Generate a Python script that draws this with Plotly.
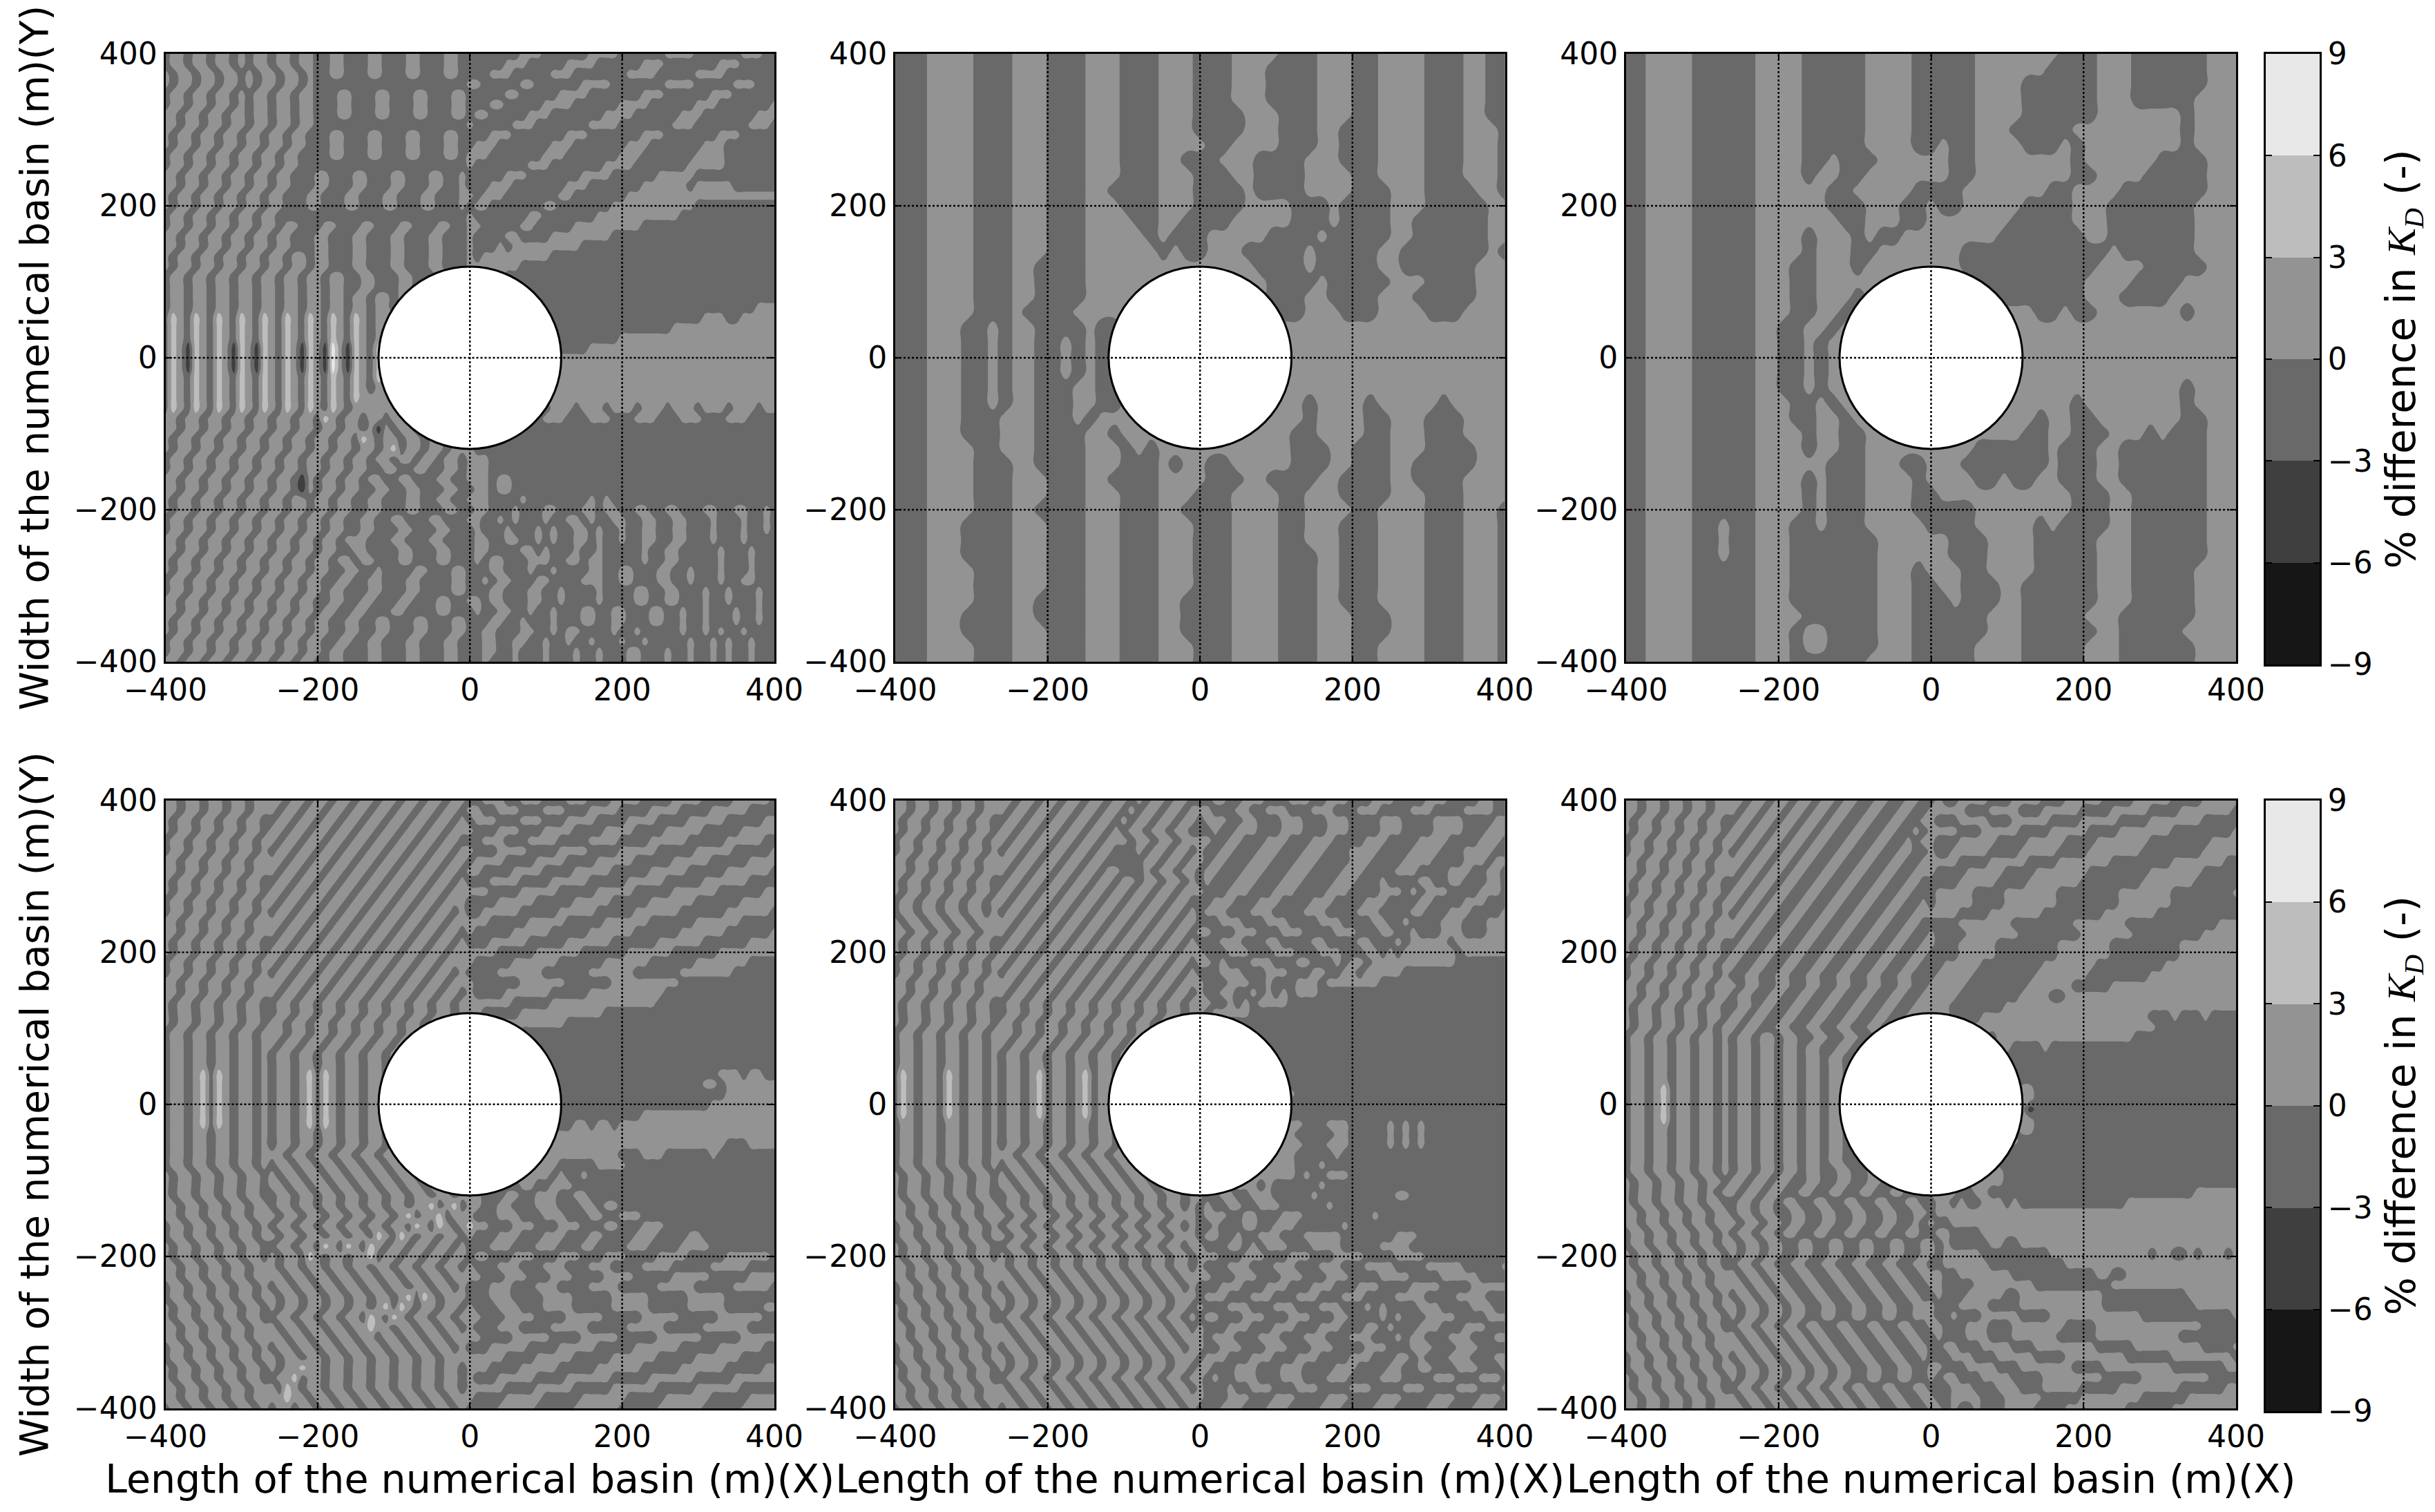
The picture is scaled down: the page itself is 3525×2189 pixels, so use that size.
import numpy as np
import plotly.graph_objects as go

# shares of the difference in Kd
# top row first, '#' -3..0  '.' 0..3  'L' 3..6  'W' 6..9  'D' -6..-3
CELL_VALUES = {"#": -1.5, ".": 1.0, "L": 4.5, "W": 7.5, "D": -4.5}
BAND_COLORS = ["#161616", "#3f3f3f", "#696969", "#939393", "#bdbdbd", "#e8e8e8"]
BAND_TICKS = [-9, -6, -3, 0, 3, 6, 9]
BAND_MIDDLES = [-7.5, -4.5, -1.5, 1.5, 4.5, 7.5]
AXIS_TICKS = [-400, -200, 0, 200, 400]
GRID_AT = [-200, 0, 200]
CYLINDER_RADIUS = 120
PANEL_COLS = [81, 51, 51, 81, 81, 81]

panel_1 = [
"#..#..#..#.#..#..#..##..###..###..###..########...######....######....######...##",
"#..#..#..#.#..#..#..##..###..###..###..######...#####....######...#######...#####",
".#..#..#..#.#..#..#.##..###..###..###..####...#####...#######....#####....#######",
".#..#..#..#.#..#..#.####################..#####..######....#######....#####...####",
"#..#..#..#.#..#..#..###..###..###..###..#####..#####....#######...######...######",
"#..#..#..#.#..#..#..###..###..###..###..###..#####....######....######...#######.",
"..#..#..#..#..#..#..###..###..###..###..#..#####...#######....######...#######...",
"..#..#..#..#..#..#..####################.#####...#######....#######...#######...##",
".#..#..#..#..#..#..###..###..###..###..####...#######...#######...#######...#####",
".#..#..#..#..#..#..###..###..###..###..##...#######...#######...#######...#######",
"#..#..#..#..#..#..####..###..###..###..#...#######...#######...#######....#######",
"#..#..#..#..#..#..######################.#######...#######....#######.....########",
"..#..#..#..#..#..###..###..###..###..##.#####...#######....######.....###########",
"..#..#..#..#..#..###..###..###..###..##.###...#######...#######......#.....#######",
".#..#..#..#..#..###..###..###..###..###..#...#######..#######.....................",
".#..#..#..#..#..###..###..###..###..###.#..#######..#######...........###########",
"#..#..#..#..#..#########################.#######..#######...........##############",
"#..#..#..#..#..#..###..###..###..###..##..#####..#####.........##################",
"..#..#..#..#..#..###..###..###..###..###.####..####........######################",
"..#..#..#..#..#..###..###..###..###..###.###.#.........##########################",
".#..#..#..#..#..#..#..###..###..###..###.#.........##############################",
".#..#..#..#..#..#..#..###..###..###..###.......##################################",
"#..#..#..#..#..#..#..#..##..###..###..##.###.####################################",
"#..#..#..#..#..#..#..#..##..###..###..##.##.#####################################",
"#..#..#..#..#..#..#..#..#..#..#..#..#..#.#########################################",
"#..#..#..#..#..#..#..#..#..#..#..#..#..#.#####################################....",
"#L.#L.#L.#L.#L.#L.#L.#L.#L.#.............##############################...##.....",
"#L.#L.#L.#L.#L.#L.#L.#L.#L.#.............##########################..............",
"#L.#L.#L.#L.#L.#L.#L.#L.#L.#.............###################......................",
"#L.DL.#L.DL.DL.#L.DL.DW.DL.#L.............##############.........................",
"#L.DL.#L.DL.DL.#L.DL.DW.DL.#L....................................................",
"#L.DL.#L.DL.DL.#L.DL.DW.DL.#L....................................................",
"#L.#L.#L.#L.#L.#L.#L.#L.#L.#L....................................................",
"#L.#L.#L.#L.#L.#L.#L.#L.#L.#.....................................................",
"#L.#L.#L.#L.#L.#L.#L.#L.#L.......................................................",
"#L.#L.#L.#L.#L.#L.#L.#L.#.........................#...#...#...#...#...#...#...#..",
"..#..#..#..#..#..#..#L.#..#..#..........##...#####...###...###...###...###...####",
"..#..#..#..#..#..#..#..#..#.D.#..#..#...#########################################",
".#..#..#..#..#..#..#..#..#L.#..#..#..#..#########################################",
".#..#..#..#..#..#..#..#..#..#.L#..#..#...########################################",
"#..#..#..#..#..#..#..#..#..#..#..#..#..#...######################################",
"#..#..#..#..#..#..#..#..#..##..##..##..#...######################################",
"..#..#..#..#..#..#D.#..#..#..##..###..##...#..###################################",
"..#..#..#..#..#..#D.#..#..##..##..###..##..#..###################################",
".#..#..#..#..#..#..#..#..##..###..##..##...####.########.#.######################",
".#..#..#..#..#..#..#..#..##..###..###..##..###.###..###..#..##..##..###..##..##.#",
"#..#..#..#..#..#..#..#..##..##..###..###..##.#.###.##..#.##..##..##..###.###.##.#",
"#..#..#..#..#..#..#..#..##..###..###..###.###.###.#.##..#.##.##..##..###.###.##.#",
"..#..#..#..#..#..#..#..#...###..###..####..##..##.#.##..#.##.##..##..###.###.####",
"..#..#..#..#..#..#..#..##..####..###..###..####..#.###.##.#####.##..#####.###.###",
".#..#..#..#..#..#..#..#..#..###..###..###.#..###...##..#..#####.##..#####.###.###",
".#..#..#..#..#..#..#..##..##.####..###..###..###.##.####..##..###..##.###.###.###",
"#..#..#..#..#..#..#..##..##..###..####..##.#..###..####...##..###..##.###.##..###",
"#..#..#..#..#..#..#..#..###..###..####..###..###..##.####.####..##..###.##.###.##",
"..#..#..#..#..#..#..##..##..###..###..##..#..###..##.####.####..##..###.##.###.##",
"..#..#..#..#..#..#..#..##..###..####..###.##..##.##.###..##..###..##.##.###.##.##",
".#..#..#..#..#..#..#..##..##..###..###..###..##.###.###..##..###..##.##.###.##.##",
".#..#..#..#..#..#..#..##..##..###..###..##..###..##.#..####.##.#####.##.#.##.####",
"#..#..#..#..#..#..#..##..##..###..###..###..##..##.##.##.###.##.#####.##.#.##.###",
"#..#..#..#..#..#..#..#..###..###..###..###..##.###.###.##.###..###.##.##.#.##.###",
"..#..#..#..#..#..#..##..###..###..###..###.###.###.###.##.###..###.##.##.#.##.###",
]

panel_2 = [
"###....###...###...###...###....###...##....###..##",
"###....###...###...###...###...####...##....###..##",
"###....###...###...###...###...####...##....###..##",
"###....###...###...###...###...####...##....###..##",
"###....###...###...###...####...###...##....###..##",
"###....###...###...###...####...###..###....###...#",
"###....###...###...###....##....###..###....###...#",
"###....###...###...###..###...####...###....###...#",
"###....###...###...###...###..####....##....###...#",
"###....###...###..####...####.####....###...####..#",
"###....###...###...###...####....###.####...#####..##",
"###....###...###....##..####.....###.####..######..##",
"###....###...###.....#.###.....####.#####..######...#",
"###....###...###......#.##...#####.#####..#######.#",
"###....###..####..............####.#####..######...",
"###....###..####...............####.#####...####...",
"###....###..####...............###..####...#####...",
"###....###.####................###...###....###....",
"###...##.#..####.##................................",
"###...##.#..##.#.##................................",
"###...##.#..##.#.#.................................",
"###...##.#..##.#.#.................................",
"###...##.#..###..##................................",
"###...##.#..###..##...............#....#.....#.....",
"###...###...###.#.................#....##...###....",
"###...###...####..#..............##....##...###....",
"###....##...####...#.#...........###..###...####...",
"###....###..####...###.#..##.....###..###..#####...",
"###....###...###..####....###..####..####..####....",
"###....###...###...###...###....##...####...###....",
"###....###..####...###..####....##....##....###...#",
"###...####...###...###...###....##...###....###...#",
"###...####...###...###...###....##...###....###...#",
"###...####...###...###...###....###..###....###...#",
"###....###...###...###...###....###..###....###...#",
"###....###...###...###...###....###..###....###...#",
"###....###..####...###..####....###..###....###...#",
"###...####..####...###..####....###...###...###...#",
"###...####...###...###..####....###...###...###...#",
"###....###...###...###...###....###...##....###...#",
"###....###...###...###...###....###...##....###...#",
]

panel_3 = [
"##....#####....#####....#####.......###...######...",
"##....#####....#####....#####......####...######...",
"##....#####....#####....#####....######...######...",
"##....#####....#####....#####....######...#####....",
"##....#####....#####....#####....######.......#....",
"##....#####....#####....#####...#####.........#....",
"##....#####....#####....##.##....###.#........#....",
"##....#####....##.###......##........#......####...",
"##....#####....#..##.......##........##....#####...",
"##....#####......##.....####.......##....#######...",
"##....#####......###...##.##.....####...#######....",
"##....#####.......##...##.......#####...#######....",
"##....#####....#...#.##........#######..#######....",
"##....#####....#...##.......############.######....",
"##....#####...##...#........###########....#####...",
"##....#####...##.............#########....####.....",
"##....#####...##...#.........#########...####......",
"##....#####...##..#...............##.##.......#....",
"##....#####..##..#.................................",
"##....#####..##.#..................................",
"##....#####..##.#..................................",
"##....#####..##.#..................................",
"##....#####..##.#.............................#....",
"##....#####...##.#...................#........#....",
"##....#####...##..#...............#..##.......##...",
"##....#####....#..##.............##..###...#.###...",
"##....#####....#..##.........######.###..#######...",
"##....#####......###...##...#######.###..#######...",
"##....#####....#.###....#....##.##..###..#######...",
"##....#####....#.###....##...........###..######...",
"##....#####....#.###....#####........###..######...",
"##....##.##...##.###.....####.....#.####..######...",
"##....##.##...#######......###....#####...######...",
"##....##.##...#######......###....#####...######...",
"##....#####...#######...#...##....#####...#####....",
"##....#####...#######...##..###..######...#####....",
"##....#####...#######...###.###..######...#####....",
"##....#####....######...######...#####...######....",
"##....#####...#..####...######...######..#####.....",
"##....#####...#..####...#####....#####...######....",
"##....#####...######....#####....#####...######....",
]

panel_4 = [
"..#..#..#..#....#..#..#..#..#..#..#..#..##...##...###...###....####....####.....#",
"..#..#..#..#...#..#..#..#..#..#..#..#..#..##...###...###....####....####.....####",
".#..#..#..#..##..#..#..#..#..#..#..#..#.#...###...###....####....####.....#####..",
".#..#..#..#..#..#..#..#..#..#..#..#..#...###...###....####....####.....#####.....",
"#..#..#..#..#..#..#..#..#..#..#..#..#..###...###....####....####.....#####.....##",
"#..#..#..#..#.#..#..#..#..#..#..#..#..#..###....####....####.....#####.....#####.",
"..#..#..#..#....#..#..#..#..#..#..#..#..#....####....####.....#####.....#####....",
"..#..#..#..#...#..#..#..#..#..#..#..#..#..####....####.....#####.....#####......#",
".#..#..#..#..##..#..#..#..#..#..#..#..#.###....####.....#####.....#####......####",
".#..#..#..#..#..#..#..#..#..#..#..#..#.....####.....#####.....#####......######.",
"#..#..#..#..#..#..#..#..#..#..#..#..#...####.....#####.....#####......######....",
"#..#..#..#..#.#..#..#..#..#..#..#..#..#.##.....#####.....#####......######......#",
"..#..#..#..#....#..#..#..#..#..#..#..#.....#####.....#####......######......#####",
"..#..#..#..#...#..#..#..#..#..#..#..#..#.#####.....#####......######......######.",
".#..#..#..#..##..#..#..#..#..#..#..#..#.###.....#####......######......######....",
".#..#..#..#..#..#..#..#..#..#..#..#..#......#####......######......######.......",
"#..#..#..#..#..#..#..#..#..#..#..#..#....#####......######......######.......###",
"#..#..#..#..#.#..#..#..#..#..#..#..#..#.####......######......######.......######",
"..#..#..#..#....#..#..#..#..#..#..#..#...######......######.........###########",
"..#..#..#..#...#..#..#..#..#..#..#..#..#.####......#####..........###############",
".#..#..#..#..##..#..#..#..#..#..#..#..#.......#####..............#################",
".#..#..#..#..##..#..#..#..#..#..#..#..#...#####...........#######################",
".#..#..#..#..#..#..#..#..#..#..#..#..#..####.........############################",
"#..#..#..#..#...#..#..#..#..#..#..#..#.........###################################",
"#..#..#..#..#..#..#..#..#..#..#..#..#...........######################################",
"#..#..#..#..#.#..#..#..#..#..#..#..#..#..#######################################",
"#..#..#..#..#.#..#..#..#..#..#..#..#..#.#########################################",
"#..#.L#L.#..#.#..#.L#L.#..#..#..#..#..#.#################################...#..##.",
"#..#.L#L.#..#.#..#.L#L.#..#..#..#..#..#.###############################..#.......",
"#..#.L#L.#..#.#..#.L#L.#..#..#..#..#..#.##################################.......",
"#..#.L#L.#..#.#..#.L#L.#..#..#..#..#..#.################################.........",
"#..#.L#L.#..#.#..#.L#L.#..#..#..#..#..#.#######################..................",
"#..#.L#L.#..#.#..#.L#L.#..#..#..#..#..#.##############..#..#.....................",
"#..#..#..#..#.#..#..#..#..#..#..#..#..#.#########................................",
"#..#..#..#..#.#..#..#..#..#..#..#..#..#.#########.........................###....",
"#..#..#..#..#...#..#..#..#..#..#..#..#..########............###...######.########",
"#..#..#..#..#.#..#..#..#..#..#..#..#..#.########....#####....#####################",
".#..#..#..#..#.#..#..#..#..#..#..#..#..#...........#.##.#########################",
".#..#..#..#..#..#..#..#..#..#..#..#..#..##...##..##...###########################",
".#..#..#..#..##..#..#..#..#..#..#..#..#...###..##...##..########################",
"..#..#..#..#..#..#..#..#..#..#..#..L#.L#..##..###...###..#..######################",
"..#..#..#..#...#..#..#..#..#..#.L#..L#...###...###...###..##...###################",
"#..#..#..#..#.#..#..#..#..#..#..#L.#L.#.L..###...###...###..###...###############",
"#..#..#..#..#..#..#..#..#..#L.#L.#..#..#.###...###...###..####...####..##########",
".#..#..#..#..##..#..#L.#L.#L.#..#..#..#.###...###...###..####...####....#########",
".#..#..#..#..#.#..#L.#..#..L#..#..#..#..#..###...###...###...####....#####......##",
"..#..#..#..#...#..#..#..#..#..#..#..#..#.###...###...###...####....#####.....#####",
"..#..#..#..#....#..#..#..#..#..#..#..#....###...###...####....#####.....#####....",
"#..#..#..#..#.#..#..#..#..#..#..#..#..#.###...###...####....#####.....#####.....#",
"#..#..#..#..#..#..#..#..#..#..#.L#L.#...###...####....#####.....#####.....#####",
".#..#..#..#..#.#..#..#..#..#.L#L.#..#..#.###...###....#####.....#####.....#####...",
".#..#..#..#..##..#..#..#..#L.#L.#..#..#...###....####.....#####.....#####......##",
"..#..#..#..#...#..#..#..#..L..#..#..#..#.###...####.....#####.....#####......#####",
"..#..#..#..#....#..#..#..#..#..#..#..#....####.....####.....#####......#####.....",
"#..#..#..#..#.#..#..#..#..#..#..#..#..#.###.....####.....#####......#####......##",
"#..#..#..#..#..#..#..#..#..#..#..#..#........####.....#####......#####......#####",
".#..#..#..#..#.#..L..#..#..#..#..#..#..#...####.....#####......#####......#####...",
".#..#..#..#..##..L#..#..#..#..#..#..#..#.###.....####......#####......#####......#",
"..#..#..#..#...#L.#..#..#..#..#..#..#..#.....####.....#####......#####......#####..",
"..#..#..#..#....L..#..#..#..#..#..#..#...####.....#####......#####......#####.....",
"#..#..#..#..#.#..#..#..#..#..#..#..#..#.####.....#####......#####......#####.....",
]

panel_5 = [
"..#..#..#..#....#..#..#..#..#..#.#..#..###..##...###...##...###...####...####..##",
"..#..#..#..#...#..#..#..#..#..#.#..#..#...###..##...###...###...####...####....##",
".#..#..#..#..##..#..#..#..#..#.#..#..#..#...##..###...###...####...####....####..",
".#..#..#..#..#..#..#..#..#..#.#..#..#..###.##...###...###...####...####....###...",
"#..#..#..#..#..#..#..#..#..#...#..#..#....##..###...###...####...####....####...#",
"#..#..#..#..#.#..#..#..#..#..###.#..#..#.##..###...###...###....####....###....##",
"..#..#..#..#....#..#..#..#..#####..#..#..#..###...###...####...####....####...#..",
"..#..#..#..#...#..#..#..#..#..###.#..#..#..###...###...####...####...####...##..#",
".#..#..#..#..##..#..#..#..#..#..#..#..#.#.###...###...####...###.####..##..###..#",
".#..#..#..#..#..#..#..#..#..#..#..#..#...###...###...####...####...#.#...####...#",
"#..#..#..#..#..#..#..#..#..#..#..#..#..###...###...####...####...####..####...###",
"#..#..#..#..#.#..#..#..#..#..#..#..#..#.#...###...####...####...####..###...####.",
".#..#..#..#.....#..#..#..#..#..#..#..#..###...###...####...####..##.####...###...",
"..#..#..#..#...#..#..#..#..#..#..#..#..#..###...###...####...###..##.###...###...",
".#..#..#..#..##..#..#..#..#..#..#..#..#.###...###..####..####..###.#.....#.......",
".#..#..#..#..#..#..#..#..#..#..#..#..#...###...###...###...###..#.#.......#......",
"#..#..#..#..#..#..#..#..#..#..#..#..#..#..#.###...###..###.#..#...........#######",
"#..#..#..#..#.#..#..#..#..#..#..#..#..#.###...###...###..##..#.....##############",
"..#..#..#..#....#..#..#..#..#..#..#..#...###...##.###...#.......#################",
"..#..#..#..#...#..#..#..#..#..#..#..#..#.##..##.#.#.#...#########################",
".#..#..#..#..##..#..#..#..#..#..#..#..#...##.#.#....#############################",
".#..#..#..#..##..#..#..#..#..#..#..#..#..#.....##################################",
".#..#..#..#..#..#..#..#..#..#..#..#..#...#..#####################################",
"#..#..#..#..#...#..#..#..#..#..#..#..#.......#.##################################",
"#..#..#..#..#..#..#..#..#..#..#..#..#...........#################################",
"#..#..#..#..#.#..#..#..#..#..#..#..#..#.....#####################################",
"#..#..#..#..#.#..#..#..#..#..#..#..#..#......#.##################################",
"#L.#..#L.#..#.#..#.L#..#.L#..#..#..#..#.........#################################",
"#L.#..#L.#..#.#..#.L#..#.L#..#..#..#..#.........#################################",
"#L.#..#L.#..#.#..#.L#..#.L#..#..#..#..#..............############################",
"#L.#..#L.#..#.#..#.L#..#.L#..#..#..#..#.............#############################",
"#L.#..#L.#..#.#..#.L#..#.L#..#..#..#..#.............#############################",
"#..#..#..#..#.#..#..#..#..#..#..#..#..#...............###...#####.#.#.###########",
"#..#..#..#..#.#..#..#..#..#..#..#..#..#..............#####..#####.#.#.###########",
"#..#..#..#..#.#..#..#..#..#..#..#..#..#...............###...#####.#.#.###########",
"#..#..#..#..#...#..#..#..#..#..#..#..#...............#####.######################",
"#..#..#..#..#.#..#..#..#..#..#..#..#..#..............###.########################",
".#..#..#..#..#.#..#..#..#..#..#..#..#..#.............#.##...#####################",
".#..#..#..#..#..#..#..#..#..#..#..#..#..#..##...#.######.########################",
".#..#..#..#..##..#..#..#..#..#..#..#..#..##..##...#####.##########..#############",
"..#..#..#..#..#..#..#..#..#..#..#..#..#.#.##..##...######.#######################",
"..#..#..#..#...#..#..#..#..#..#..#..#...#...##..###...#########.#################",
"#..#..#..#..#.#..#..#..#..#..#..#..#..#.##.###..##...######.####################",
"#..#..#..#..#..#..#..#..#..#..#..#..#...#..##.##...###.....#######...############",
".#..#..#..#..##..#..#..#..#..#..#..#..#..###..#.#...###....#####....#############",
".#..#..#..#..#.#..#..#..#..#..#..#..#..#...###...###...###....####....###########",
"..#..#..#..#...#..#..#..#..#..#..#..#..#.###...###...###...###....####.....#####...",
"..#..#..#..#....#..#..#..#..#..#..#..#....###...###...###...####....####.....###",
"#..#..#..#..#.#..#..#..#..#..#..#..#..#.###...###...###...###...####....####.....#",
"#..#..#..#..#..#..#..#..#..#..#..#..#...#...###...###...###...####....####....###",
".#..#..#..#..#.#..#..#..#..#..#..#..#..#.###...###...###...###.#.####...####...###",
".#..#..#..#..##..#..#..#..#..#..#..#..#.#..###...###...###..####.#.###....####...#",
"..#..#..#..#...#..#..#..#..#..#..#..#..#.###...###...###...###..#.###...###...####.",
"..#..#..#..#....#..#..#..#..#..#..#..#...#...###...###...###...###.#..###...###...",
"#..#..#..#..#.#..#..#..#..#..#..#..#..#..##...###...###...####...###...###...####",
"#..#..#..#..#..#..#..#..#..#..#..#..#...#...###...###...####...###..#.###...###..",
".#..#..#..#..#.#..#..#..#..#..#..#..#..#..###...###...####...####..##..###...###.",
".#..#..#..#..##..#..#..#..#..#..#..#..#..#.##...###...###...####...####...###...#",
"..#..#..#..#...#..#..#..#..#..#..#..#..#.###.##...###...####...####...####...###..",
"..#..#..#..#....#..#..#..#..#..#..#..#...###...###...####...####...####...###...#",
"#..#..#..#..#.#..#..#..#..#..#..#..#..#.###...###...####...####...####...###...##",
]

panel_6 = [
"..#..#..#..#....#..#..#..#..#..##..##..##.##....###....###.....####.....####......",
"..#..#..#..#...#..#..#..#..#..##..##..##.....###....###.....####.....####.......##",
".#..#..#..#..##..#..#..#..#..##..##..##..###....###.....####.....####.......#####",
".#..#..#..#..#..#..#..#..#..##..##..##.#....###.....####.....####.......########.",
"#..#..#..#..#..#..#..#..#..##..##..##.#..###.....####.....####.......########....",
"#..#..#..#..#.#..#..#..#..##..##..##..##.##.....####.....####.......########......",
"..#..#..#..#....#..#..#..##..##..##..##.....####.....####.......########.......##",
"..#..#..#..#...#..#..#..##..##..##..##...####.....####.......########.......#####",
".#..#..#..#..##..#..#..##..##..##..##..#####.....####.......########.......######",
".#..#..#..#..#..#..#..##..##..##..##..###.....####.......########.......########.",
"#..#..#..#..#..#..#..##..##..##..##..##.#.....####.......########.......#########",
"#..#..#..#..#.#..#..##..##..##..##..##......####.......########.......###########",
"..#..#..#..#....#..##..##..##..##..##..#####.......########.......############.",
"..#..#..#..#...#..##..##..##..##..##..##.####.......########.......#########.....",
".#..#..#..#..##..##..##..##..##..##..##..###.....########.......#########.......",
".#..#..#..#..#..##..##..##..##..##..##..####.....########.......#########........",
"#..#..#..#..#..##..##..##..##..##..##..###.....########.......#########.........",
"#..#..#..#..#.##..##..##..##..##..##..###.....########.......########...........",
"..#..#..#..#...#..##..##..##..##..##..##.....########......#####................",
"..#..#..#..#..#..##..##..##..##..##..##.....########....##......................",
".#..#..#..#..##..#..##..##..##..##..##.....#######...............................",
".#..#..#..#..#..#..##..##..##..##..##......####......................###.###.####",
".#..#..#..#.#..#..##..##..##..##..##.##.####..........................#############",
"#..#..#..#..#.#..#..#..##..##..##..##...........#..................##############",
"#..#..#..#..#.#..#..#..#..##..##..##....###........####.#########################",
"#..#..#..#..#.#..#..#..#..#..##..##..###.........#################################",
"#..#..#..#..#.#..#..#..#..#..#..##..####...........##############################",
"#..#..#..#..#.#..#..#..#..#..#..#..#..##.........##.##############################",
"#..#.L#..#..#.#..#..#..#..#..#..#..#..#............#..############################",
"#..#.L#..#..#.#..#..#..#..#..#..#..#..#............#..############################",
"#..#.L#..#..#.#..#..#..#..#..#..#..#..#............D.D############################",
"#..#.L#..#..#.#..#..#..#..#..#..#..#..#............#..############################",
"#..#..#..#..#.#..#..#..#..#..#..#..#..#............#..############################",
"#..#..#..#..#.#..#..#..#..#..#..#..#..##........##..##############################",
"#..#..#..#..#.#..#..#..#..#..#..##..####.........#################################",
"#..#..#..#..#.#..#..#..#..#..##..##..###.........#################################",
"#..#..#..#..#.#..#..#..#..##..##..##....###.......#################################",
".#..#..#..#..#..#..#..##..##..##..##...#..........###############################",
".#..#..#..#.#..#..#..##..##..##..##..##.....##..###########################.......",
".#..#..#..#..##..#..#..##..##..##..##..##..#.##...#.##############...............",
"..#..#..#..#..#..#..##..##..##..##..##..#........................................",
"..#..#..#..#...#..#..#..##..##..##..##.#.##.....................................",
"#..#..#..#..#.#..#..#..##..##..##..##..##..####.................................",
"#..#..#..#..#..#..#..##..##..##..##..##..#.#####..##..............................",
".#..#..#..#..#.#..#..##..##..##..##..##..#.....#########.............#..##.#...#..",
".#..#..#..#..##..#..##..##..##..##..##..##......##########........................",
"..#..#..#..#...#..#..##..##..##..##..##...##.......###########..##................",
"..#..#..#..#....#..#..##..##..##..##..##..####........##########.................",
"#..#..#..#..#.#..#..#..##..##..##..##..##.###.....##...........###########.........",
"#..#..#..#..#..#..#..#..##..##..##..##...###....####...........############......",
".#..#..#..#..#.#..#..#..##..##..##..##...##.###.....####............############.",
".#..#..#..#..##..#..#..#..##..##..##..##..###...###.......####..............########",
"..#..#..#..#...#..#..#..#..##..##..##..##.###...###......#####...........########",
"..#..#..#..#....#..#..#..#..##..##..##..##..###....###........#####.........####..",
"#..#..#..#..#.#..#..#..#..#..##..##..##.###...###.....####........######........##",
"#..#..#..#..#..#..#..#..#..#..##..##..##..###....###.......####.........#######....",
".#..#..#..#..#.#..#..#..#..#..##..##..##.#..###....####........#####.........####",
".#..#..#..#..##..#..#..#..#..#..##..##..###...###...###.....#####........######.....",
"..#..#..#..#...#..#..#..#..#..#..##..##..##....###.....#####........######.........",
"..#..#..#..#....#..#..#..#..#..#..##..##..#.##.###....####........######.........####",
]


def to_grid(rows, n_cols):
    z = []
    for r in rows[::-1]:
        r = r.ljust(n_cols, r[-1])[:n_cols]
        z.append([CELL_VALUES[c] for c in r])
    x = np.linspace(-400, 400, n_cols)
    y = np.linspace(-400, 400, len(rows))
    return x, y, z


W, H = 3525, 2189
PANEL_X = [(239.5, 1121), (1296, 2178.5), (2354, 3237)]
PANEL_Y = [(78, 958), (1158.5, 2039)]
BAR_X = (3279.5, 3358)
BAR_Y = [(78, 962), (1158.5, 2043)]
FONT = "DejaVu Sans"
TICK_SIZE = 44
TITLE_SIZE = 57

# stepped scale, one grey per 3 % band
colorscale = []
for i, c in enumerate(BAND_COLORS):
    colorscale.append([i / 6, c])
    colorscale.append([(i + 1) / 6, c])

fig = go.Figure()
panels = [panel_1, panel_2, panel_3, panel_4, panel_5, panel_6]

axis = dict(
    showgrid=False, zeroline=False, automargin=False,
    showline=True, linewidth=3, linecolor="black", mirror="allticks",
    ticks="inside", ticklen=9, tickwidth=1.5, tickcolor="black",
    tickfont=dict(family=FONT, size=TICK_SIZE, color="black"),
    layer="above traces",
)

layout = {}
shapes = []
for k, rows in enumerate(panels):
    col, row = k % 3, k // 3
    name = "" if k == 0 else str(k + 1)
    x, y, z = to_grid(rows, PANEL_COLS[k])

    fig.add_trace(go.Contour(
        x=x, y=y, z=z,
        xaxis="x" + name, yaxis="y" + name,
        zmin=-9, zmax=9,
        autocontour=False,
        contours=dict(start=-9, end=9, size=3, coloring="fill", showlines=False),
        line=dict(width=0, smoothing=1.3),
        colorscale=colorscale,
        showscale=False,
    ))

    xaxis = dict(axis, range=[-400, 400], tickvals=AXIS_TICKS,
                 domain=[PANEL_X[col][0] / W, PANEL_X[col][1] / W],
                 anchor="y" + name)
    yaxis = dict(axis, range=[-400, 400], tickvals=AXIS_TICKS,
                 domain=[1 - PANEL_Y[row][1] / H, 1 - PANEL_Y[row][0] / H],
                 anchor="x" + name)
    if row == 1:
        xaxis["title"] = dict(
            text="Length of the numerical basin (m)(X)",
            font=dict(family=FONT, size=TITLE_SIZE, color="black"),
            standoff=18,
        )
    if col == 0:
        yaxis["title"] = dict(
            text="Width of the numerical basin (m)(Y)",
            font=dict(family=FONT, size=TITLE_SIZE, color="black"),
            standoff=18,
        )
    layout["xaxis" + name] = xaxis
    layout["yaxis" + name] = yaxis

    xref, yref = "x" + name, "y" + name
    shapes.append(dict(
        type="circle", xref=xref, yref=yref, layer="above",
        x0=-CYLINDER_RADIUS, x1=CYLINDER_RADIUS,
        y0=-CYLINDER_RADIUS, y1=CYLINDER_RADIUS,
        fillcolor="white", line=dict(color="black", width=3),
    ))
    for g in GRID_AT:
        shapes.append(dict(type="line", xref=xref, yref=yref, layer="above",
                           x0=g, x1=g, y0=-400, y1=400,
                           line=dict(color="black", width=2.5, dash="dot")))
        shapes.append(dict(type="line", xref=xref, yref=yref, layer="above",
                           x0=-400, x1=400, y0=g, y1=g,
                           line=dict(color="black", width=2.5, dash="dot")))

# the two colour keys are small heatmaps on their own axes
for b, (top, bottom) in enumerate(BAR_Y):
    xname, yname = "x" + str(7 + b), "y" + str(7 + b)
    fig.add_trace(go.Heatmap(
        x=[0, 1], y=BAND_TICKS, z=[[v] for v in BAND_MIDDLES],
        xaxis=xname, yaxis=yname,
        zmin=-9, zmax=9, colorscale=colorscale, showscale=False,
        hoverinfo="skip",
    ))
    layout["xaxis" + str(7 + b)] = dict(
        range=[0, 1], domain=[BAR_X[0] / W, BAR_X[1] / W], anchor=yname,
        showticklabels=False, ticks="", showgrid=False, zeroline=False,
        automargin=False,
        showline=True, linewidth=3, linecolor="black", mirror=True,
    )
    layout["yaxis" + str(7 + b)] = dict(
        axis, range=[-9, 9], tickvals=BAND_TICKS, anchor=xname, side="right",
        domain=[1 - bottom / H, 1 - top / H],
        title=dict(
            text='% difference in <span style="font-family:Liberation Serif"><i>K<sub>D</sub></i></span> (-)',
            font=dict(family=FONT, size=58, color="black"),
            standoff=22,
        ),
    )

fig.update_layout(
    width=W, height=H, autosize=False,
    margin=dict(l=0, r=0, t=0, b=0, autoexpand=False),
    paper_bgcolor="white", plot_bgcolor="white",
    shapes=shapes,
    **layout,
)

fig.write_html("out.html", config={"displayModeBar": False},
               post_script="document.body.style.margin='0';")
